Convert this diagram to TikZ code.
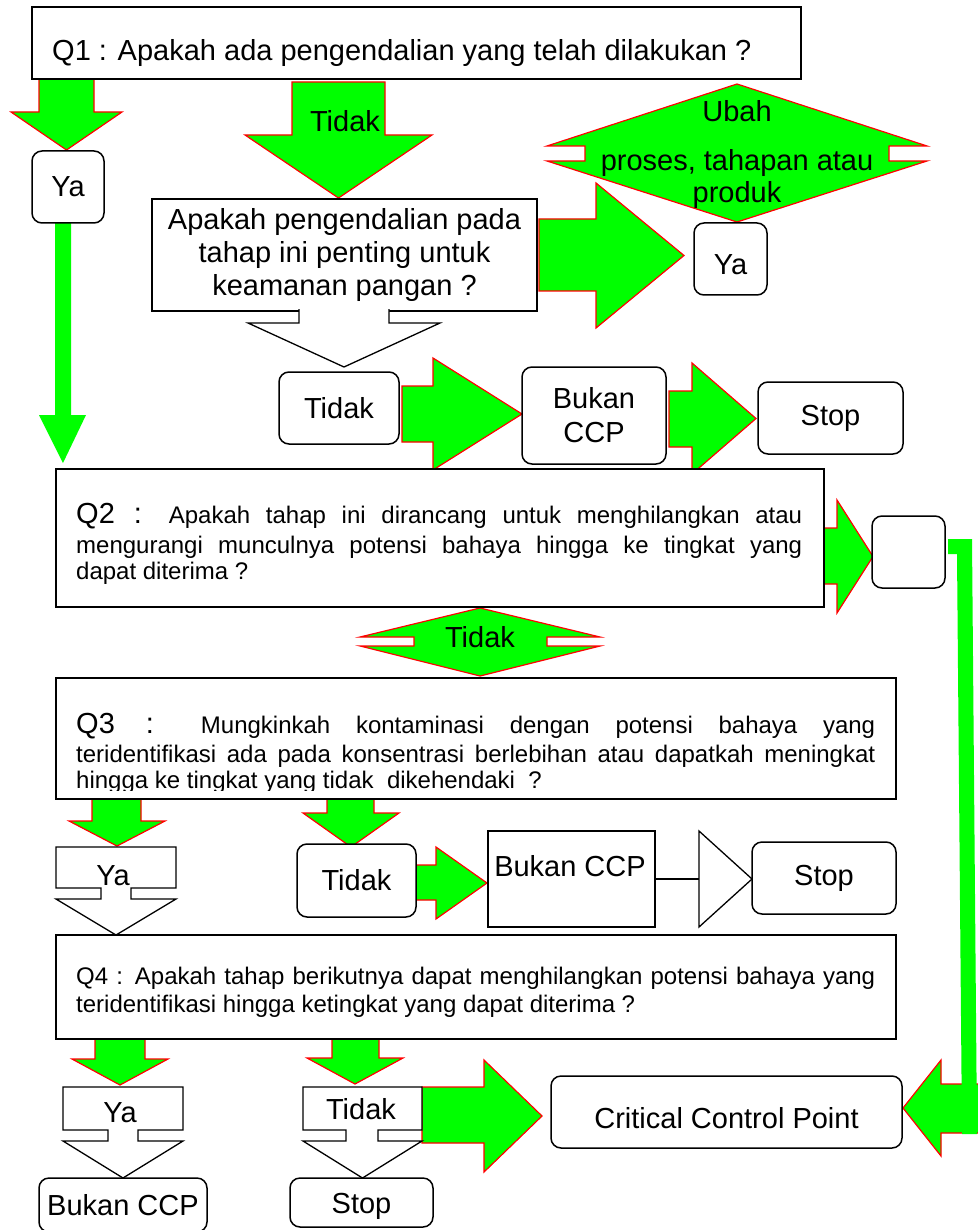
\documentclass[tikz,border=0pt]{standalone}
\usepackage{fontspec}
\setmainfont{Liberation Sans}
\definecolor{hijau}{RGB}{0,255,0}
\definecolor{merah}{RGB}{255,0,0}
\tikzset{
  garrow/.style={fill=hijau, draw=merah, line width=1.2pt},
  gbar/.style={fill=hijau},
  warrow/.style={fill=white, draw=black, line width=1.3pt},
  kotak/.style={draw=black, fill=white, line width=1.5pt, inner sep=0pt},
  kotakr/.style={kotak, rounded corners=10pt},
  besar/.style={font=\fontsize{29}{32}\selectfont},
  kecil/.style={font=\fontsize{24}{26}\selectfont},
  garis/.style={draw=black, line width=1.5pt},
}

\begin{document}
\begin{tikzpicture}[x=1pt,y=-1pt]
    \useasboundingbox (0,0) rectangle (977,1230);

    % panah hijau
    \draw[garrow] (39,79) -- (39,112) -- (11,112) -- (66.5,150) -- (122,112) -- (94,112) -- (94,79) -- cycle;
    \draw[garrow] (292,82) -- (292,135) -- (245,135) -- (338.5,198) -- (432,135) -- (385,135) -- (385,82) -- cycle;
    \draw[garrow] (539,219) -- (596,219) -- (596,183) -- (684,255.5) -- (596,328) -- (596,291) -- (539,291) -- cycle;
    \draw[garrow] (402,386) -- (433,386) -- (433,358) -- (522,414) -- (433,470) -- (433,442) -- (402,442) -- cycle;
    \draw[garrow] (669,391) -- (692,391) -- (692,363) -- (756,418.5) -- (692,474) -- (692,447) -- (669,447) -- cycle;
    \draw[garrow] (824,528) -- (837,528) -- (837,500) -- (873,556.5) -- (837,613) -- (837,584) -- (824,584) -- cycle;
    \draw[garrow] (92,799) -- (92,821) -- (69,821) -- (117,846) -- (165,821) -- (141,821) -- (141,799) -- cycle;
    \draw[garrow] (327,799) -- (327,813) -- (303,813) -- (351,847) -- (399,813) -- (374,813) -- (374,799) -- cycle;
    \draw[garrow] (416,865) -- (436,865) -- (436,847) -- (487,883) -- (436,919) -- (436,900) -- (416,900) -- cycle;
    \draw[garrow] (95,1039) -- (95,1059) -- (72,1059) -- (120,1085) -- (168,1059) -- (145,1059) -- (145,1039) -- cycle;
    \draw[garrow] (332,1036) -- (332,1058) -- (307,1058) -- (355,1084) -- (403,1058) -- (379,1058) -- (379,1036) -- cycle;
    \draw[garrow] (422,1087) -- (484,1087) -- (484,1060) -- (542,1116) -- (484,1172) -- (484,1143) -- (422,1143) -- cycle;
    \draw[garrow] (980,1084) -- (941,1084) -- (941,1060) -- (903,1108) -- (941,1156) -- (941,1133) -- (980,1133);
    % dua arah
    \draw[garrow] (547,146) -- (585,146) -- (585,161) -- (547,161) -- (737,222) -- (927,161) -- (889,161) -- (889,146) -- (927,146) -- (737,84) -- cycle;
    \draw[garrow] (360,637) -- (414,637) -- (414,646) -- (360,646) -- (480,676) -- (600,646) -- (547,646) -- (547,637) -- (600,637) -- (480,608) -- cycle;
    % batang hijau
    \fill[gbar] (55,223) -- (71,223) -- (71,415) -- (86,415) -- (63,463) -- (39,415) -- (55,415) -- cycle;
    \fill[gbar] (948,539) -- (972,539) -- (977,1134) -- (962,1134) -- (957,554) -- (948,554) -- cycle;

    % kotak
    \node[kotak, minimum width=769, minimum height=72] (q1) at (416.5,43) {};
    \node[kotakr, besar, minimum width=72, minimum height=72] (ya1) at (68,187) {Ya};
    \node[kotak, font=\fontsize{29}{33}\selectfont, align=center, minimum width=385, minimum height=112] (penting) at (344.5,255) {Apakah pengendalian pada\\tahap ini penting untuk\\keamanan pangan ?};
    \node[kotakr, besar, minimum width=73, minimum height=72, text height=32, text depth=0] (ya2) at (730.5,259) {Ya};
    \node[kotakr, besar, minimum width=120, minimum height=72] (tidak1) at (339,408) {Tidak};
    \node[kotakr, font=\fontsize{29}{34}\selectfont, align=center, minimum width=144, minimum height=97] (bukan1) at (594,415.5) {Bukan\\CCP};
    \node[kotakr, besar, minimum width=145, minimum height=72] (stop1) at (830.5,418) {Stop};
    \node[kotak, minimum width=768, minimum height=138] (q2) at (440,538) {};
    \node[kotakr, minimum width=73, minimum height=72] (kosong) at (908.5,552) {};
    \node[kotak, minimum width=840, minimum height=121] (q3) at (476,738.5) {};
    \node[kotakr, besar, minimum width=119, minimum height=73] (tidak2) at (356.5,880.5) {Tidak};
    \node[kotak, minimum width=167, minimum height=96] (bukan2) at (571.5,879) {};
    \node[kotakr, besar, minimum width=144, minimum height=72] (stop2) at (824,878) {Stop};
    \node[kotak, minimum width=840, minimum height=104] (q4) at (476,987) {};
    \node[kotakr, besar, minimum width=168, minimum height=54] (bukan3) at (123,1205) {Bukan CCP};
    \node[kotakr, besar, minimum width=143, minimum height=49, text height=21, text depth=0] (stop3) at (361.5,1202.5) {Stop};
    \node[kotakr, besar, minimum width=351, minimum height=72, text height=32, text depth=0] (ccp) at (726.5,1112) {Critical Control Point\hspace{20pt}};

    % panah putih
    \draw[warrow] (299,309) -- (299,323) -- (248,323) -- (344,367) -- (440,323) -- (389,323) -- (389,309);
    \draw[warrow] (56,847) -- (176,847) -- (176,888) -- (131,888) -- (131,899) -- (176,899) -- (116,935) -- (56,899) -- (101,899) -- (101,888) -- (56,888) -- cycle;
    \draw[warrow] (63,1087) -- (183,1087) -- (183,1130) -- (138,1130) -- (138,1141) -- (183,1141) -- (123,1178) -- (63,1141) -- (108,1141) -- (108,1130) -- (63,1130) -- cycle;
    \draw[warrow] (303,1087) -- (422,1087) -- (422,1130) -- (378,1130) -- (378,1141) -- (422,1141) -- (362.5,1178) -- (303,1141) -- (346,1141) -- (346,1130) -- (303,1130) -- cycle;
    \coordinate (segitiga) at (699,879);
    \draw[warrow] (699,831) -- (752,879) -- (699,927) -- cycle;
    \draw[garis] (bukan2.east) -- (segitiga);

    % teks
    \node[besar, anchor=base west, inner sep=0] (q1t) at (52,61) {Q1 : Apakah ada pengendalian yang telah dilakukan ?};
    \node[besar] (tidakt) at (345,121) {Tidak};
    \node[besar, align=center] (ubaht) at (737,155) {Ubah\\[17pt]proses, tahapan atau\\produk};
    \node[besar] (tidakq2) at (480,637) {Tidak};
    \node[besar] (bukan2t) at (570,866) {Bukan CCP};
    \node[besar] (yaq3) at (113,875.5) {Ya};
    \node[besar] (yaq4) at (120,1112.5) {Ya};
    \node[besar] (tidakq4) at (361,1109.5) {Tidak};

    \node[kecil, anchor=base west, text width=726, align=justify, inner sep=0] (q2t) at (76,523) {\tolerance=10000 {\fontsize{29}{26}\selectfont Q2 :} Apakah tahap ini dirancang untuk menghilangkan atau\vadjust{\kern4pt}\linebreak mengurangi munculnya potensi bahaya hingga ke tingkat yang\linebreak dapat diterima ?};
    \begin{scope}
        \clip (56,678) rectangle (896,790);
        \node[kecil, anchor=base west, text width=799, align=justify, inner sep=0] (q3t) at (76,733) {\tolerance=10000 {\fontsize{29}{26}\selectfont Q3 :} Mungkinkah kontaminasi dengan potensi bahaya yang\vadjust{\kern3pt}\linebreak teridentifikasi ada pada konsentrasi berlebihan atau dapatkah meningkat\linebreak hingga ke tingkat yang tidak\ \ dikehendaki\ \ ?};
    \end{scope}
    \node[font=\fontsize{24}{28}\selectfont, anchor=base west, text width=799, align=justify, inner sep=0] (q4t) at (76,984) {\tolerance=10000 Q4 : Apakah tahap berikutnya dapat menghilangkan potensi bahaya yang\linebreak teridentifikasi hingga ketingkat yang dapat diterima ?};
\end{tikzpicture}
\end{document}
